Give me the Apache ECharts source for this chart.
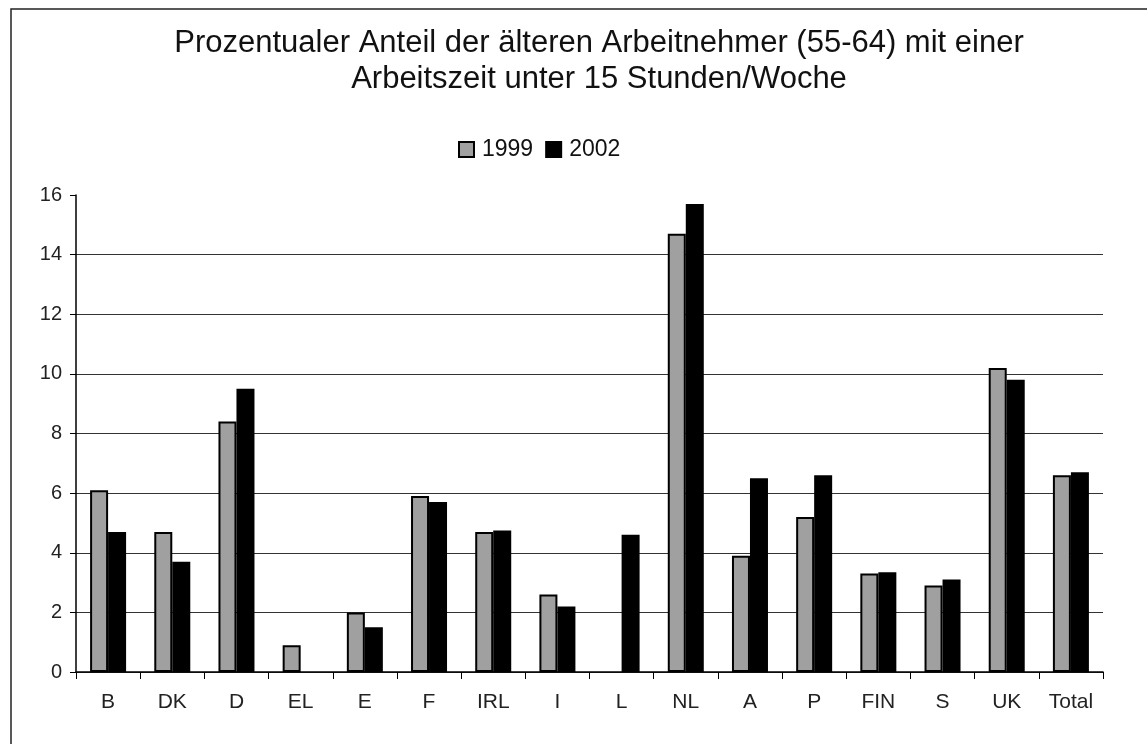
<!DOCTYPE html>
<html>
<head>
<meta charset="utf-8">
<title>Arbeitszeit unter 15 Stunden</title>
<script src="https://cdn.jsdelivr.net/npm/echarts@6/dist/echarts.min.js"></script>
<style>
	html, body { margin: 0; padding: 0; background: #fff; }
	#myChart { width: 1147px; height: 744px; }
</style>
</head>
<body>
<div id="myChart"></div>
<script>
	// Länder (x-Achse)
	var countries = ["B", "DK", "D", "EL", "E", "F", "IRL", "I", "L", "NL", "A", "P", "FIN", "S", "UK", "Total"];
	// Werte in Prozent, null = kein Wert
	var data1999 = [6.1, 4.7, 8.4, 0.9, 2.0, 5.9, 4.7, 2.6, null, 14.7, 3.9, 5.2, 3.3, 2.9, 10.2, 6.6];
	var data2002 = [4.7, 3.7, 9.5, null, 1.5, 5.7, 4.75, 2.2, 4.6, 15.7, 6.5, 6.6, 3.35, 3.1, 9.8, 6.7];
	var yTicks = [0, 2, 4, 6, 8, 10, 12, 14, 16];

	var chart = echarts.init(document.getElementById("myChart"));
	var fontName = "'Liberation Sans', Arial, sans-serif";

	var option = {
		backgroundColor: "#fff",
		animation: false,
		textStyle: { fontFamily: fontName },
		graphic: [
			{
				// Rahmen um das Diagramm
				type: "rect",
				shape: { x: 11, y: 9, width: 1200, height: 800 },
				style: { fill: "none", stroke: "#222", lineWidth: 1.5 },
				silent: true
			}
		],
		title: {
			text: "Prozentualer Anteil der älteren Arbeitnehmer (55-64) mit einer\nArbeitszeit unter 15 Stunden/Woche",
			left: 594,
			top: 20,
			textAlign: "center",
			textStyle: {
				fontFamily: fontName,
				fontSize: 31,
				lineHeight: 36,
				fontWeight: "normal",
				color: "#111"
			}
		},
		legend: {
			data: ["1999", "2002"],
			left: 453,
			top: 133,
			icon: "rect",
			itemWidth: 15,
			itemHeight: 15,
			itemGap: 12,
			itemStyle: { borderColor: "#000", borderWidth: 2 },
			textStyle: { fontFamily: fontName, fontSize: 23, color: "#111", padding: [0, 0, 0, 3] }
		},
		grid: {
			left: 76,
			right: 44,
			top: 195,
			bottom: 72,
			containLabel: false
		},
		xAxis: {
			type: "category",
			data: countries,
			axisLine: { lineStyle: { color: "#000", width: 1.5 } },
			axisTick: { show: true, length: 7, lineStyle: { color: "#000" } },
			axisLabel: { fontFamily: fontName, fontSize: 21, color: "#222", margin: 20 }
		},
		yAxis: {
			type: "value",
			min: yTicks[0],
			max: yTicks[yTicks.length - 1],
			interval: 2,
			axisLine: { show: true, lineStyle: { color: "#000", width: 1.5 } },
			axisTick: { show: true, length: 6, lineStyle: { color: "#000" } },
			axisLabel: { fontFamily: fontName, fontSize: 20, color: "#222", margin: 14 },
			splitLine: { show: true, showMaxLine: false, lineStyle: { color: "#333", width: 1.2 } }
		},
		series: [
			{
				name: "1999",
				type: "bar",
				data: data1999,
				barWidth: 18,
				barGap: "0%",
				itemStyle: { color: "#a0a0a0", borderColor: "#000", borderWidth: 2 }
			},
			{
				name: "2002",
				type: "bar",
				data: data2002,
				barWidth: 18,
				itemStyle: { color: "#000", borderColor: "#000", borderWidth: 2 }
			}
		]
	};

	chart.setOption(option);
</script>
</body>
</html>
